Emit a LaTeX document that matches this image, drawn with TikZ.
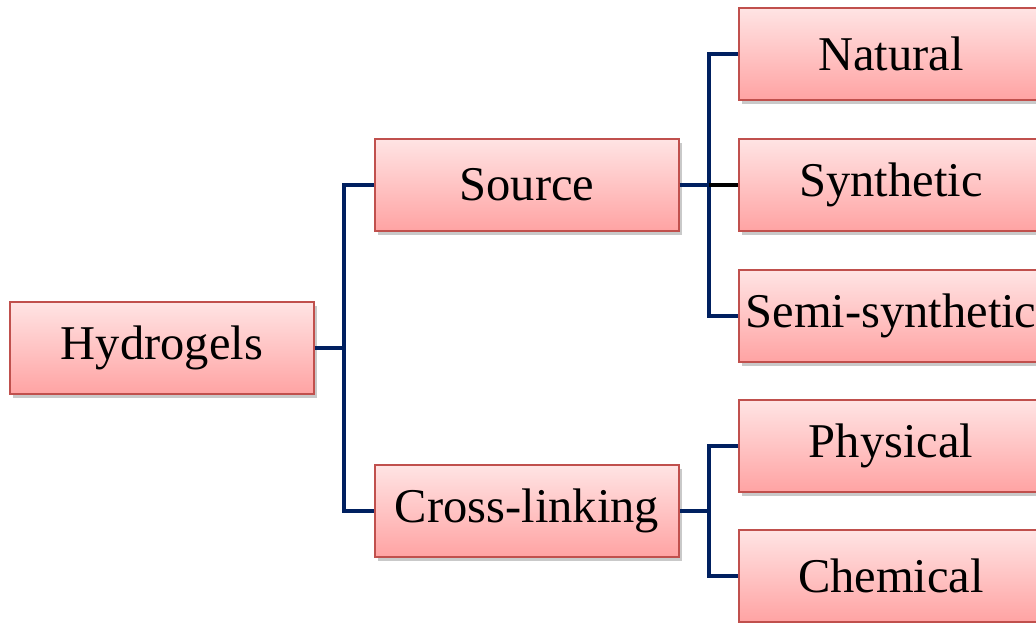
\documentclass[tikz,border=0pt]{standalone}
\usepackage{fontspec}
\setmainfont{Liberation Serif}
\usetikzlibrary{shadows}
\definecolor{boxedge}{HTML}{C0504D}
\definecolor{boxtop}{HTML}{FFE4E4}
\definecolor{boxbot}{HTML}{FFA3A3}
\definecolor{navy}{HTML}{002060}
\tikzset{
  box/.style={rectangle, draw=boxedge, line width=1.4pt,
    top color=boxtop, bottom color=boxbot,
    minimum width=304pt, minimum height=92pt, inner sep=0pt,
    font=\fontsize{48.5}{56}\selectfont,
    drop shadow={shadow xshift=3pt, shadow yshift=-4pt, opacity=0.35, fill=black!60}},
  link/.style={draw=navy, line width=4pt, line cap=butt},
}
\begin{document}
\begin{tikzpicture}[x=1pt, y=-1pt]
  \useasboundingbox (0,0) rectangle (1036,622);
  \clip (0,0) rectangle (1036,622);
  \fill[white] (0,0) rectangle (1036,622);

  % tree of boxes
  \node[box] (hyd)  at (162,348) {Hydrogels};
  \node[box] (src)  at (527,185) {Source};
  \node[box] (xl)   at (527,511) {Cross-linking};
  \node[box] (nat)  at (891,54)  {Natural};
  \node[box] (syn)  at (891,185) {Synthetic};
  \node[box] (semi) at (891,316) {Semi-synthetic};
  \node[box] (phy)  at (891,446) {Physical};
  \node[box] (chem) at (891,576) {Chemical};

  % elbow connectors
  \coordinate (j1) at (344,348);
  \coordinate (j2) at (709,185);
  \coordinate (j3) at (709,511);

  \draw[link] (hyd.east) -- (j1);
  \draw[link] (src.west) -| (j1) |- (xl.west);

  \draw[link] (src.east) -- (j2);
  \draw[link] (nat.west) -| (j2) |- (semi.west);
  \draw[line width=4pt, black] (j2) -- (syn.west);

  \draw[link] (xl.east) -- (j3);
  \draw[link] (phy.west) -| (j3) |- (chem.west);
\end{tikzpicture}
\end{document}
